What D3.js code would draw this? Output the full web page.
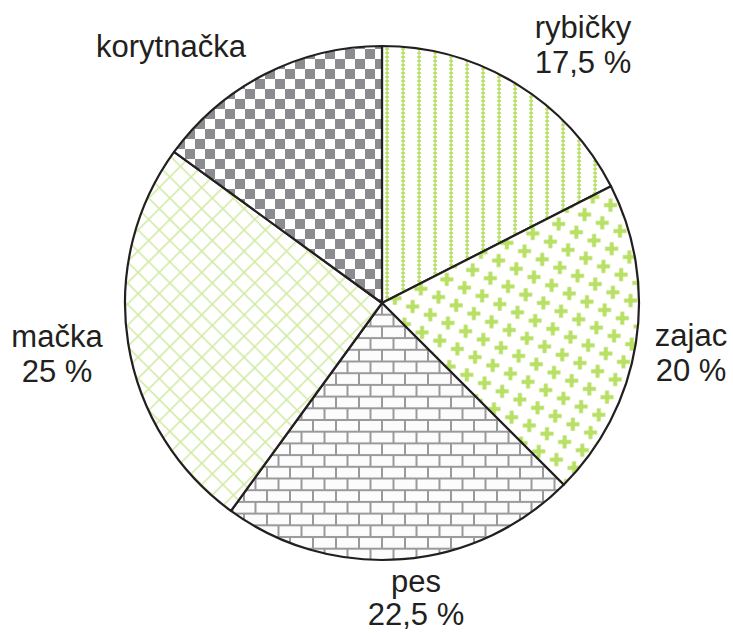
<!DOCTYPE html>
<html>
<head>
<meta charset="utf-8">
<script src="https://cdn.jsdelivr.net/npm/d3@7"></script>
<style>
  html, body { margin: 0; padding: 0; background: #fff; }
  svg { display: block; }
  text { font-family: "Liberation Sans", Arial, sans-serif; fill: #231f20; }
</style>
</head>
<body>
<svg id="chart" width="733" height="633"></svg>
<script>
const categories = ["rybičky", "zajac", "pes", "mačka", "korytnačka"];
const values = [17.5, 20, 22.5, 25, 15];
const valueLabels = ["17,5 %", "20 %", "22,5 %", "25 %", ""];
const patternIds = ["pFish", "pRabbit", "pDog", "pCat", "pTurtle"];

const svg = d3.select("#chart");
const defs = svg.append("defs");
const green = "#b8e065";

// rybičky: vertical dotted green lines
const pf = defs.append("pattern").attr("id", "pFish").attr("patternUnits", "userSpaceOnUse")
  .attr("width", 16).attr("height", 4).attr("x", 13);
pf.append("rect").attr("width", 16).attr("height", 4).attr("fill", "#fff");
pf.append("rect").attr("x", 7.2).attr("y", 0).attr("width", 1.8).attr("height", 4).attr("fill", green).attr("opacity", 0.8);
pf.append("rect").attr("x", 6.2).attr("y", 1.1).attr("width", 3.8).attr("height", 1.8).attr("fill", green);

// zajac: upright crosses on rotated lattice
const ang = 25, sp = 19.5;
const pr = defs.append("pattern").attr("id", "pRabbit").attr("patternUnits", "userSpaceOnUse")
  .attr("width", sp).attr("height", sp).attr("patternTransform", `rotate(${ang})`);
pr.append("rect").attr("width", sp).attr("height", sp).attr("fill", "#fff");
const cr = pr.append("g").attr("transform", `translate(${sp / 2},${sp / 2}) rotate(${-ang})`);
cr.append("rect").attr("x", -6.5).attr("y", -2).attr("width", 13).attr("height", 4).attr("fill", green);
cr.append("rect").attr("x", -2).attr("y", -6.5).attr("width", 4).attr("height", 13).attr("fill", green);

// pes: gray brick pattern
const bw = 23, bh = 11.7, m = 2;
const pd = defs.append("pattern").attr("id", "pDog").attr("patternUnits", "userSpaceOnUse")
  .attr("width", bw).attr("height", bh * 2);
pd.append("rect").attr("width", bw).attr("height", bh * 2).attr("fill", "#9a9a9a");
[[m / 2, m / 2], [-bw / 2 + m / 2, bh + m / 2], [bw / 2 + m / 2, bh + m / 2]].forEach(([x, y]) => {
  pd.append("rect").attr("x", x).attr("y", y).attr("width", bw - m).attr("height", bh - m).attr("fill", "#fcfcfc");
});

// mačka: diagonal light-green grid
const gs = 15;
const pc = defs.append("pattern").attr("id", "pCat").attr("patternUnits", "userSpaceOnUse")
  .attr("width", gs).attr("height", gs).attr("patternTransform", "rotate(45)");
pc.append("rect").attr("width", gs).attr("height", gs).attr("fill", "#fff");
pc.append("rect").attr("x", 0).attr("y", 0).attr("width", gs).attr("height", 1.6).attr("fill", "#d3eba6");
pc.append("rect").attr("x", 0).attr("y", 0).attr("width", 1.6).attr("height", gs).attr("fill", "#d3eba6");

// korytnačka: gray checkerboard
const cs = 10;
const pt = defs.append("pattern").attr("id", "pTurtle").attr("patternUnits", "userSpaceOnUse")
  .attr("width", cs * 2).attr("height", cs * 2).attr("x", 3).attr("y", 6);
pt.append("rect").attr("width", cs * 2).attr("height", cs * 2).attr("fill", "#fff");
pt.append("rect").attr("x", 0).attr("y", 0).attr("width", cs).attr("height", cs).attr("fill", "#8b8b90");
pt.append("rect").attr("x", cs).attr("y", cs).attr("width", cs).attr("height", cs).attr("fill", "#8b8b90");

const cx = 382, cy = 303, R = 257;
const data = categories.map((c, i) => ({ cat: c, value: values[i], label: valueLabels[i], pat: patternIds[i] }));
const pie = d3.pie().sort(null).value(d => d.value);
const arc = d3.arc().innerRadius(0).outerRadius(R);

const g = svg.append("g").attr("transform", `translate(${cx},${cy})`);
g.selectAll("path.slice").data(pie(data)).join("path")
  .attr("class", "slice")
  .attr("d", arc)
  .attr("fill", d => `url(#${d.data.pat})`)
  .attr("stroke", "#231f20")
  .attr("stroke-width", 2.2)
  .attr("stroke-linejoin", "round");

// labels
const labelPos = {
  "rybičky": [583, 38],
  "zajac": [691, 346],
  "pes": [416, 592],
  "mačka": [57, 347],
  "korytnačka": [171, 57]
};
const lineGap = 35;
data.forEach(d => {
  const [x, y] = labelPos[d.cat];
  const t = svg.append("text").attr("x", x).attr("y", y).attr("text-anchor", "middle").attr("font-size", 31);
  t.append("tspan").attr("x", x).attr("y", y).text(d.cat);
  if (d.label) t.append("tspan").attr("x", x).attr("y", y + (d.cat === "pes" ? 33 : lineGap)).text(d.label);
});
</script>
</body>
</html>
